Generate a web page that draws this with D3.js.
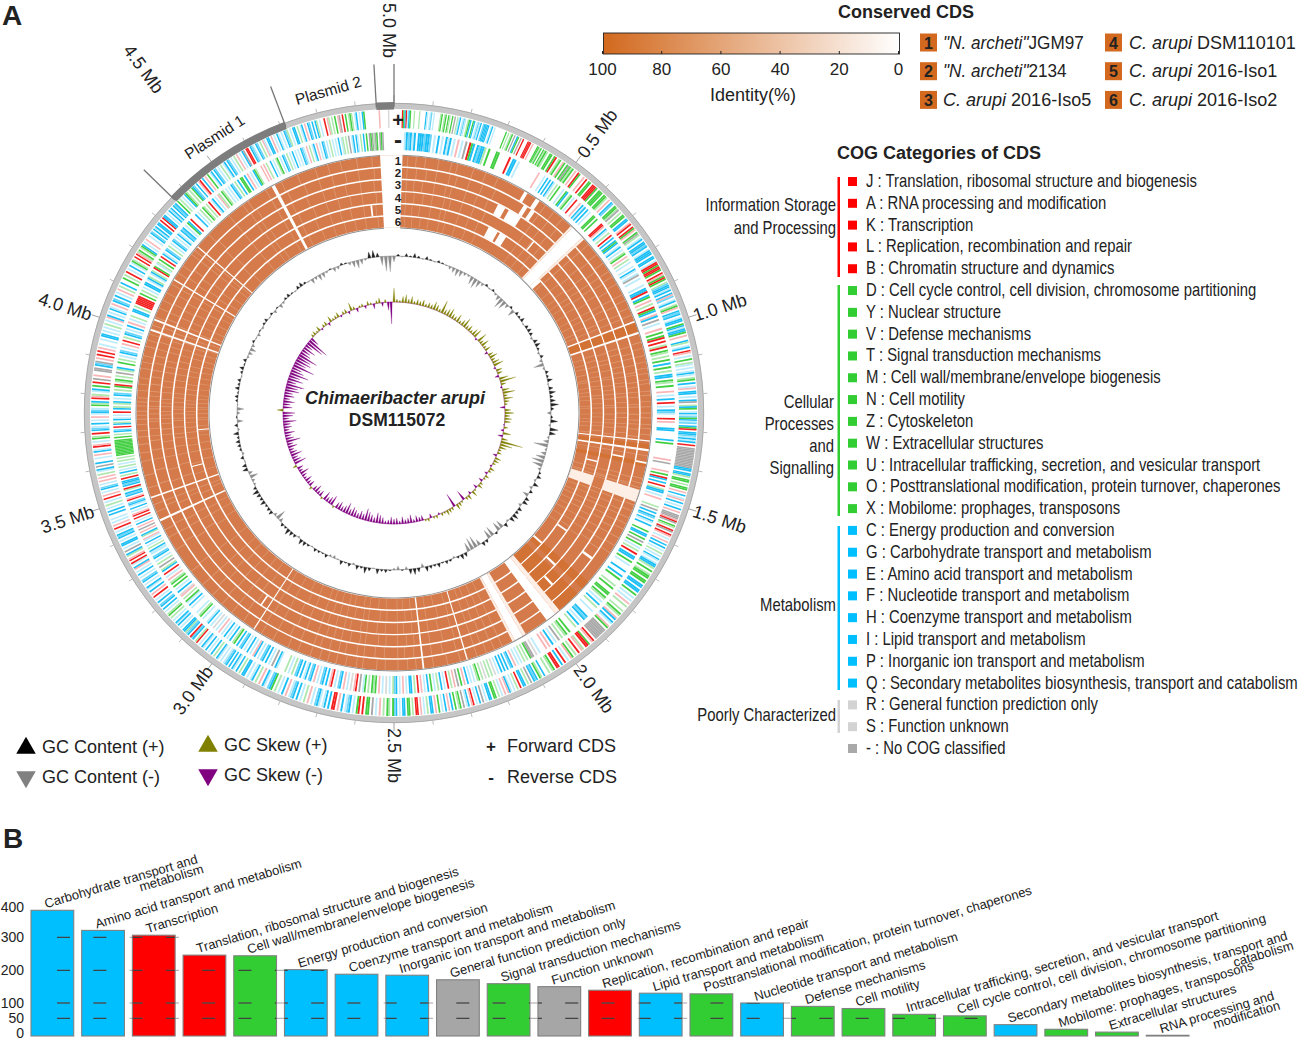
<!DOCTYPE html>
<html><head><meta charset="utf-8">
<script src="https://cdn.jsdelivr.net/npm/d3@7"></script>
<style>html,body{margin:0;padding:0;background:#fff}svg{display:block}text{font-family:"Liberation Sans",Arial,sans-serif;fill:#222}</style>
</head><body><svg id="c" width="1299" height="1041"></svg>
<script>
// ---------- DATA ----------
const barCategories = ["Carbohydrate transport and|metabolism","Amino acid transport and metabolism","Transcription","Translation, ribosomal structure and biogenesis","Cell wall/membrane/envelope biogenesis","Energy production and conversion","Coenzyme transport and metabolism","Inorganic ion transport and metabolism","General function prediction only","Signal transduction mechanisms","Function unknown","Replication, recombination and repair","Lipid transport and metabolism","Posttranslational modification, protein turnover, chaperones","Nucleotide transport and metabolism","Defense mechanisms","Cell motility","Intracellular trafficking, secretion, and vesicular transport","Cell cycle control, cell division, chromosome partitioning","Secondary metabolites biosynthesis, transport and|catabolism","Mobilome: prophages, transposons","Extracellular structures","RNA processing and|modification"];
const barValues = [390,323,307,246,244,202,188,185,171,159,150,139,130,128,100,89,82,63,58,32,19,11,2];
const barGroups = ["m","m","i","i","c","m","m","m","p","c","p","i","m","c","m","c","c","c","c","m","c","c","n"];
const barTicks = [0,50,100,200,300,400];
const mbLabels = [0.5,1.0,1.5,2.0,2.5,3.0,3.5,4.0,4.5,5.0];
const mbLabelRadius = [318,315,315,313,315,315,316,318,398,355];
const mbMinor = d3.range(1,51).map(d=>d/10);
const plasmids = [["Plasmid 1",-45.8,-20.7],["Plasmid 2",-3.3,0]];

const cogRows = ["J : Translation, ribosomal structure and biogenesis","A : RNA processing and modification","K : Transcription","L : Replication, recombination and repair","B : Chromatin structure and dynamics","D : Cell cycle control, cell division, chromosome partitioning","Y : Nuclear structure","V : Defense mechanisms","T : Signal transduction mechanisms","M : Cell wall/membrane/envelope biogenesis","N : Cell motility","Z : Cytoskeleton","W : Extracellular structures","U : Intracellular trafficking, secretion, and vesicular transport","O : Posttranslational modification, protein turnover, chaperones","X : Mobilome: prophages, transposons","C : Energy production and conversion","G : Carbohydrate transport and metabolism","E : Amino acid transport and metabolism","F : Nucleotide transport and metabolism","H : Coenzyme transport and metabolism","I : Lipid transport and metabolism","P : Inorganic ion transport and metabolism","Q : Secondary metabolites biosynthesis, transport and catabolism","R : General function prediction only","S : Function unknown","- : No COG classified"];
const cogRowGroups = ["i","i","i","i","i","c","c","c","c","c","c","c","c","c","c","c","m","m","m","m","m","m","m","m","p","p","n"];
const strains = [["\"N. archeti\"","JGM97"],["\"N. archeti\"","2134"],["C. arupi ","2016-Iso5"],["C. arupi ","DSM110101"],["C. arupi ","2016-Iso1"],["C. arupi ","2016-Iso2"]];
const identityTicks = [100,80,60,40,20,0];

// CDS tracks: one string per 30 degree sector, one character per gene stripe (see cdsColor)
const forwardCDS = [
"......rgbrcbg..l...l....bc.cB.c....lg.lg.gl.g.a.lcb.cBc.lgb.gb.cBcb.Bbbbb.cb.c........g.l.lg.a.bg.a.r...rrr.p...gglg.gl",
"gl.gg.gr.lg.pg.gaglg.p.rg..p.r.gg.rrrg.ggg.ggl.p.bB.ggla.l.gg.bb.pr.rgp.gal.cb.bbBb.cbbb.bb.c",
"rrgrrg.rpgrg.lBbbcb.bpB.cb.lgp.bBb.cbb.gbcbbg.p..bl.cb.rp.c.g.lc.c.cbc.lg.b.cp.bb.c.ba.lbg.c",
"bcBgbcB.bgr.bbBcbcb.r.aaaaaaaaaaaaabb.bbl.gg.l.gg.p.b.cp.b.c.b.p.aaapra.gl.ra.rp.c.p.b.b.c.l.c.bc.c",
"bbl.g.lgg.gg.bb.bb.g.c.c.p.l..l.gl.pb.bc.pg.aaaaaaa.rp.grr.lp.r.l.gp.c.r.b.rr.gl.l..",
"b.lg.bBb.a.l.bb.r.l.c.cbp.p.c.l.gg.bb.c.a.b.c.rp.bc.a.gl.g.b.p.b.c.g.p.bb.l.c.p.rr.l.gg.bb.c.bB",
"g.lg.l.p.c.a.gg.r.rg.c.bBc.b.p.rr.b.bc.cbB.c.p.l.c.b.bBc.p.b.c.l.gbB.cb.p.l.bc.c.b",
"b.l.b.cb.b.bBc.c.cb.l.b.c.b.cb.c.rl.bBr.bBlbb.c.bcb.c.l.gl.c.b.bB.b.c.r.p.b.cb.c.bB.c.b.c.pb.c",
"r.rp.lb.a.c.bb.c.bBb.c.r.p.c.c..b.b.c.l.c.r.p.c.bB.c.p.p.l.cb.a.b..c.p.bc.rp.c.gl.r.bBc.b.c.p.c",
"bBc.glb.rpl.cb.g.r.a.p..aa.bBa.p.r.r.p.c..c.bb.c.c.l.c.pb.c.bc.p.bB.b.c.p.l.b..g.l.r.c.b.c",
"gl.r.rplg.lgb.c.p..c.bB.bcb.bb.r.rbb.c.bcb.bBb.g.l.c.bgl.l.gbB.b.pr.b.p.g.cb.bB.c.l.cb.bB.c.l.p.c.b",
"a.rr.bBc.bB.l.pc.bb.p.c.bc.c.bBl.c.bb.l.cb.p.bB.b.bl.c..r.pl.l.g.pa.r.g.lgl.cb.c.bg.........p.....n..."];
const reverseCDS = [
".....cbBbcb.bbbBbbB.c.b.c.bcb.c.p.c.a.rgb.bBbbl.g...gg.....r.bb.c........",
"...p...c.b.b.bc.l.g..c.gb.lg.c.r..p.bcb.b.c..gg.g...rrp.bc.l.r.b.bgb.cb.c.lg.p.l.c..c.bc.",
"ca.c...c.bbr.bg.p.l.rgb.pb.a.c..p.g.gr.r.lr.gl.l.g.b.g.l.bb.gl.g..p.c.b.r.c.bB",
"c..r.p...bb.....b.g.........p.a....p.g.rb.b.r.lbb.c.p....l.a.b.bB.bc.b...g.bb.g.a.g.c.l.",
"r.bb.g.c...b..b.g...l.g..gg.gl.c.b.l..c...bBb.c.b.l...g.gl.l.a.c.b.p.p...c.n.",
"aag.l.l.c.c.p.bB.b.b.b.c.n.l.l.n.l.gl.c.c.b.p.g.a.p.l.r.c.b.l.c.g.b.c.p.r.l.bb.c.p.c.bB",
"l.c.n.c.p.glg.l.gc.a.rp.n.c.p.bB.c.rp.b.bB.c.p.bB.bc.b.bB.l.c.l....cb.a.c.b.bB.c.b",
"p.c.b.c.bB.b.gl.b.c.b.c.p.c.n.c.bc..c.gl.c...c.b.cg.l.pn.b.c.g.gl.p.c.r.bl.a.l.c.bB.c",
"cb.l.c.b.cp.lb.p.a.p.b.c.r.rp.c.b.cbB.rp.bBb.lr.bBbb.r.l.b.c.l.c.l.l.ggggggggggg.g.l.bB.r.bl.bc.c.",
"r.bl.lb.c.bB.l.gr.lg.l.a.lb..g.l.c.bB.c.p.r.l.bB.c.b.p.c.l..bb.l.rrrrr.g.l.c.bb.cbl.c",
"bl.rg.cl.g.r.bc.bB.l.c.bB.c.bc.bBb.c.gb.r...b.c.l.gl.l.r.cb.c.pl.gl.c.c.bB.l.b.gg.b.p.c.b",
"gl...p.p.l..b.c.lg.c.bB.l.c.b.c.c.bBc.p.l.cb.p.c.bB.c.l.c.c.b.cl.l.a.cb.bc.l.b.g.agalag.aga......."];
const cdsColor = {b:"#1cbff5",B:"#6ad5f8",c:"#bdecfc",g:"#42cf42",l:"#aee8ae",r:"#f42020",p:"#f9b6b8",a:"#a8a8a8",n:"#dadada"};

// Conserved CDS rings: [start, end] in degrees clockwise from the top
const allRingGaps = [[-3.1,1.9],[43.9,47],[69,69.4],[71.6,72.1],[96.1,96.4],[98.1,98.6],[141.2,143.6],[150,152],[163.3,163.6],[245.1,245.6],[250.6,251],[331.6,332.4],[-58.9,-58.6],[-68.9,-68.5],[-71.3,-70.9],[-49.9,-49.6],[212.8,213.1],[173.2,173.6]];
const paleGaps = [[107.4,110.2],[140,141.2],[149.2,150],[152,152.6],[47,47.6],[43.4,43.9]];
const ringOrangeInPale = [[4,107.4,110.2]];
const ringGaps = [[3,26.5,28.5],[3,29.5,33],[5,27,29.8],[5,30.5,32.5],[1,30.5,31.3],[1,33.5,34.5],[2,32,33],[2,34,35],[6,47,48.2],[4,39,39.4],[2,126,126.6],[4,133,133.6],[6,131,131.6],[3,137,137.6],[5,124,124.5],[5,-6.5,-6],[6,265,265.3],[5,255,255.3],[3,214.5,214.9],[1,101,101.4],[3,100.6,101],[5,103.2,103.6]];
const ringShadow = [[131,133],[134.5,140],[97,98.1],[69.5,71.5],[101,102]];
const paleLines = [3,5,7.2,10,13,14.5,18,21,24,36,38.5,41,49,52,54.5,56.5,58,60,62.5,64,66,67.5,74,75.5,77,78.5,80,81,82.5,83.5,85,86,87.5,88.5,90,91.2,92.5,93.5,95,99.5,104.8,106,106.8,111,112.5,114,115.5,117,119,121,123,155,157,159,161,165,168,171,175,177,179,182,184,187,188.5,191,193,195,197,199,202,204.5,208,211,216,219,222,225,228,232,238,241,243,247.5,249,253,256,259,261,263,264.5,266,267.5,268.5,269.5,270.5,271.5,272.5,273.5,275,276.5,278,280,281.5,283,285,286.5,288,289,290,292,294,296,298,300,303,305,308,-50.8,-46,-40,-36,-34.5,-30,-26,-22,-18,-15,-12,-8.5,-5];

// GC tracks: one value per 1.5 degree bin, grouped in 30 degree sectors
const gcContent = [
[-6,2,-1,3,1,4,2,-1,3,1,-1,2,1,-1,-3,-5,-7,-6,-3,-2],
[-8,-10,-7,-3,2,-1,2,-2,-5,-11,-9,-4,2,-7,3,2,4,-1,3,4],
[3,-2,4,5,2,-2,3,-3,-10,-2,3,2,5,-1,4,6,3,5,8,3],
[-4,2,7,-2,8,6,-2,-5,-14,-2,-5,-9,-12,-10,-3,2,4,-2,5,-3],
[3,-6,4,5,-3,4,3,6,5,-2,4,-8,-9,2,-10,-9,3,4,-6,-12],
[-12,-9,4,5,2,-2,2,3,1,4,2,3,5,-4,4,6,5,-3,1,-4],
[-2,1,3,2,5,-1,3,6,2,4,-2,3,1,4,-1,-3,-2,3,1,2],
[3,-1,2,4,5,-2,3,4,6,2,3,-4,-10,-3,4,3,2,5,3,4],
[6,3,-2,-3,-8,-4,5,4,-1,3,-2,2,3,4,2,5,-2,3,-6,1],
[-3,-7,-1,2,3,1,4,2,3,-1,2,4,1,3,-2,-4,-6,-3,2,-1],
[-3,1,-2,2,3,-1,2,-3,1,-4,-2,2,3,1,-1,3,4,2,-1,-5],
[-3,-6,-5,-2,1,-4,-3,2,1,-3,-6,-8,-5,-2,6,7,4,-9,-15,-16]];
const gcSkew = [
[14,3,2,6,8,4,7,3,5,4,6,3,5,4,8,6,3,13,5,7],
[9,5,4,8,3,6,10,4,6,3,7,9,-2,10,4,8,3,6,-3,5],
[8,4,7,10,-2,6,5,-4,9,16,5,-2,7,12,4,9,5,3,-5,6],
[9,5,7,6,-1,4,-3,8,-5,6,22,12,7,3,4,-4,6,5,3,-2],
[5,3,-3,4,2,-4,3,5,-4,2,6,-3,5,3,-10,2,4,6,-14,3],
[4,5,2,3,-2,3,2,-4,3,2,-5,-4,-6,-3,-8,-5,-4,-7,-3,-6],
[-5,-7,-4,-3,-6,-8,-10,-5,-7,-9,-12,-6,-8,-5,-7,-9,-6,-11,-7,-5],
[-8,-6,2,-10,-7,-5,-9,2,-6,-4,-8,-5,3,-6,-4,-7,-3,-5,-9,-4],
[-6,4,-12,-8,-6,-11,-7,-5,-9,-6,-14,-8,-6,-10,-5,-8,-7,-13,-6,-10],
[-12,6,-9,-7,-11,-6,-10,-8,-14,-12,-18,-9,-15,-11,-19,-13,-10,-22,-12,-16],
[-14,-20,-11,-9,-13,-8,-18,-22,-9,3,4,2,5,-2,3,4,-3,6,2,3],
[5,-2,3,4,-3,8,3,-4,2,3,-3,4,2,-5,3,5,-4,3,-8,-22]];

// ---------- DRAWING ----------
const svg = d3.select("#c");
const groupColor = {i:"#ff0000",c:"#32cd32",m:"#00bfff",p:"#a6a6a6",n:"#909090"};
const rad = d=>d*Math.PI/180;
const arc = d3.arc();
const A = (r0,r1,a0,a1)=>arc({innerRadius:r0,outerRadius:r1,startAngle:rad(a0),endAngle:rad(a1)});
const mbAngle = d3.scaleLinear().domain([0,5]).range([0,360]);
const polar = (r,a)=>[r*Math.sin(rad(a)),-r*Math.cos(rad(a))];

const g = svg.append("g").attr("transform","translate(394,413)");

// outer scale ring
g.append("path").attr("d",A(304,310,0,360)).attr("fill","#c6c6c6");
g.append("circle").attr("r",309.7).attr("fill","none").attr("stroke","#a0a0a0").attr("stroke-width",.8);
mbMinor.forEach(m=>{
  const big=Number.isInteger(m*2), a=mbAngle(m), p0=polar(310,a), p1=polar(big?318:314,a);
  g.append("line").attr("x1",p0[0]).attr("y1",p0[1]).attr("x2",p1[0]).attr("y2",p1[1]).attr("stroke",big?"#888":"#aaa").attr("stroke-width",.8);
});
plasmids.forEach(([n,a0,a1])=>{
  g.append("path").attr("d",A(303.5,311,a0,a1)).attr("fill","#7d7d7d");
  [a0,a1].forEach(a=>{
    const p0=polar(306,a),p1=polar(349,a);
    g.append("line").attr("x1",p0[0]).attr("y1",p0[1]).attr("x2",p1[0]).attr("y2",p1[1]).attr("stroke","#777").attr("stroke-width",1.3);
  });
});
g.append("text").attr("transform","translate(-205,-253) rotate(-33)").attr("font-size",15.5).text("Plasmid 1");
g.append("text").attr("transform","translate(-97,-308) rotate(-16)").attr("font-size",15.5).text("Plasmid 2");

// Mb labels
mbLabels.forEach((m,i)=>{
  const a=mbAngle(m), r=mbLabelRadius[i], p=polar(r,a), right=a<=180;
  g.append("text").attr("transform",`translate(${p[0]},${p[1]}) rotate(${right?a-90:a+90})`)
   .attr("text-anchor",right?"start":"end").attr("dy",i===9?"0.62em":"0.36em").attr("font-size",18).text(m.toFixed(1)+" Mb");
});

// CDS strands
function strand(data,r0,r1){
  data.forEach((s,si)=>{
    const w=30/s.length;
    s.split("").forEach((ch,i)=>{
      if(ch==="."||!cdsColor[ch])return;
      g.append("path").attr("d",A(r0,r1,si*30+i*w,si*30+(i+1)*w)).attr("fill",cdsColor[ch]);
    });
  });
}
strand(forwardCDS,285,303);
strand(reverseCDS,263,281);

// Conserved CDS rings
const ringOuter=258, ringPitch=12.17;
const ringR=k=>[ringOuter-ringPitch*k-10.7-0.6,ringOuter-ringPitch*k-0.6];
const [allIn]=ringR(5),[,allOut]=ringR(0);
d3.range(6).forEach(k=>{
  const [r0,r1]=ringR(k);
  g.append("path").attr("d",A(r0,r1,0,360)).attr("fill","#d57b4b");
  ringShadow.forEach(([a,b])=>g.append("path").attr("d",A(r0,r1,a,b)).attr("fill","#d27234"));
  paleLines.forEach((a,i)=>{
    const off=(k%2?0.2:-0.1)*(i%3);
    g.append("path").attr("d",A(r0,r1,a+off,a+off+0.2)).attr("fill","#fff").attr("opacity",.22);
  });
});
paleGaps.forEach(([a,b])=>g.append("path").attr("d",A(allIn,allOut,a,b)).attr("fill","#fdeee6"));
ringOrangeInPale.forEach(([k,a,b])=>{const [r0,r1]=ringR(k-1);g.append("path").attr("d",A(r0,r1,a,b)).attr("fill","#d57b4b");});
allRingGaps.forEach(([a,b])=>g.append("path").attr("d",A(allIn-.3,allOut+.3,a,b)).attr("fill","#fff"));
ringGaps.forEach(([k,a,b])=>{const [r0,r1]=ringR(k-1);g.append("path").attr("d",A(r0-.3,r1+.3,a,b)).attr("fill","#fff");});
[258,185].forEach(r=>g.append("path").attr("d",d3.arc()({innerRadius:r-.5,outerRadius:r+.5,startAngle:rad(1.9),endAngle:rad(356.9)})).attr("fill","#909090"));

// GC tracks
const spike=d3.lineRadial().angle(d=>d[0]).radius(d=>d[1]);
function track(sectors,base,pos,neg,halfWidth,blOpacity){
  const radial=d3.scaleLinear().domain([-30,30]).range([base-30,base+30]);
  g.append("circle").attr("r",base).attr("fill","none").attr("stroke",neg).attr("stroke-width",.6).attr("opacity",blOpacity);
  sectors.flat().forEach((v,i)=>{
    const a=i*1.5;
    g.append("path").attr("d",spike([[rad(a-halfWidth),base],[rad(a),radial(v)],[rad(a+halfWidth),base]])+"Z").attr("fill",v>=0?pos:neg).attr("stroke",v>=0?pos:neg).attr("stroke-width",.25);
  });
}
track(gcContent,157,"#222222","#8c8c8c",0.6,.8);
track(gcSkew,111,"#808000","#800080",0.55,.8);

// ring number labels, strand marks
g.append("text").attr("x",4).attr("y",-286).attr("text-anchor","middle").attr("font-size",20).attr("font-weight","bold").attr("fill","#000").text("+");
g.append("text").attr("x",4).attr("y",-265).attr("text-anchor","middle").attr("font-size",24).attr("font-weight","bold").attr("fill","#000").text("-");
d3.range(6).forEach(k=>g.append("text").attr("x",4).attr("y",-ringOuter+ringPitch*k+10).attr("text-anchor","middle").attr("font-size",11.5).attr("font-weight","bold").attr("fill","#000").text(k+1));
g.append("text").attr("x",1).attr("y",-9).attr("text-anchor","middle").attr("font-size",18).attr("font-weight","bold").attr("font-style","italic").attr("fill","#000").text("Chimaeribacter arupi");
g.append("text").attr("x",3).attr("y",13).attr("text-anchor","middle").attr("font-size",17.5).attr("font-weight","bold").attr("fill","#000").text("DSM115072");

// panel letters
svg.append("text").attr("x",2).attr("y",25).attr("font-size",28).attr("font-weight","bold").attr("fill","#000").text("A");
svg.append("text").attr("x",3).attr("y",848).attr("font-size",28).attr("font-weight","bold").attr("fill","#000").text("B");

// colour bar
const defs=svg.append("defs");
const grad=defs.append("linearGradient").attr("id","idg");
grad.append("stop").attr("offset",0).attr("stop-color","#d2691e");
grad.append("stop").attr("offset",1).attr("stop-color","#fff");
svg.append("rect").attr("x",603.5).attr("y",33).attr("width",296).attr("height",21).attr("fill","url(#idg)").attr("stroke","#222").attr("stroke-width",.9);
const idScale=d3.scaleLinear().domain([100,0]).range([602,898]);
const idAxis=svg.append("g").attr("transform","translate(0,54)").call(d3.axisBottom(idScale).tickValues(identityTicks).tickSize(3).tickPadding(6).tickFormat(d3.format("d")));
idAxis.select(".domain").remove();
idAxis.selectAll("line").attr("y2",-3).attr("stroke","#222");
idAxis.selectAll("text").attr("font-size",17).attr("font-family",null);
svg.append("text").attr("x",753).attr("y",101).attr("text-anchor","middle").attr("font-size",18).text("Identity(%)");
svg.append("text").attr("x",838).attr("y",18).attr("font-size",18).attr("font-weight","bold").attr("fill","#111").text("Conserved CDS");

// strains legend
strains.forEach(([it,rest],i)=>{
  const col=i<3?0:1,row=i%3,x=col?1105:920,y=33.5+row*28.7;
  svg.append("rect").attr("x",x).attr("y",y).attr("width",17).attr("height",18).attr("fill","#d2691e");
  svg.append("text").attr("x",x+8.5).attr("y",y+15).attr("text-anchor","middle").attr("font-size",16).attr("font-weight","bold").attr("fill","#000").text(i+1);
  const t=svg.append("text").attr("transform",`translate(${x+(col?24:23)},${y+15}) scale(${it[0]==='"'?.98:1.03},1)`).attr("font-size",17.5);
  t.append("tspan").attr("font-style","italic").text(it);
  t.append("tspan").text(rest);
});

// COG legend
svg.append("text").attr("x",837).attr("y",159).attr("font-size",18).attr("font-weight","bold").attr("fill","#111").text("COG Categories of CDS");
const rowY=d3.scaleLinear().domain([0,26]).range([181,748]);
const squareColor={i:"#ff0000",c:"#32cd32",m:"#00bfff",p:"#d3d3d3",n:"#a9a9a9"};
cogRows.forEach((t,i)=>{
  svg.append("rect").attr("x",848).attr("y",rowY(i)-4).attr("width",9).attr("height",9).attr("fill",squareColor[cogRowGroups[i]]);
  svg.append("text").attr("transform",`translate(866,${rowY(i)+6}) scale(.825,1)`).attr("font-size",18).text(t);
});
[["i",177,277],["c",285,516],["m",526,690],["p",700,733]].forEach(([k,a,b])=>{
  svg.append("rect").attr("x",837.5).attr("y",a).attr("width",2.5).attr("height",b-a).attr("fill",squareColor[k]);
});
[["Information Storage",836,211],["and Processing",836,234],["Cellular",834,408],["Processes",834,430],["and",834,452],["Signalling",834,474],["Metabolism",836,611],["Poorly Characterized",836,721]].forEach(([t,x,y])=>{
  svg.append("text").attr("transform",`translate(${x},${y}) scale(.825,1)`).attr("text-anchor","end").attr("font-size",18).text(t);
});

// GC legend
const tri=d3.symbol().type(d3.symbolTriangle).size(165);
[["GC Content (+)",26,747,0,"#000",42],["GC Content (-)",26,777,180,"#808080",42],["GC Skew (+)",208,745,0,"#808000",224],["GC Skew (-)",208,775,180,"#800080",224]].forEach(([t,x,y,rot,c,tx])=>{
  svg.append("path").attr("d",tri()).attr("transform",`translate(${x},${y+(rot?0:1)}) rotate(${rot})`).attr("fill",c);
  svg.append("text").attr("x",tx).attr("y",y+6).attr("font-size",18).text(t);
});
[["+","Forward CDS",752],["-","Reverse CDS",783]].forEach(([s,t,y])=>{
  svg.append("text").attr("x",491).attr("y",y).attr("text-anchor","middle").attr("font-size",17).attr("font-weight","bold").attr("fill","#000").text(s);
  svg.append("text").attr("x",507).attr("y",y).attr("font-size",18).text(t);
});

// Panel B
const x=d3.scaleBand().domain(d3.range(barValues.length)).range([31,1189]).paddingInner(.157);
const y=d3.scaleLinear().domain(barTicks).range([1036,1018.3,1003,970.3,937.3,907.3]);
const yAxis=svg.append("g").attr("transform","translate(24,0)").call(d3.axisLeft(y).tickValues(barTicks).tickSize(0).tickPadding(0).tickFormat(d3.format("d")));
yAxis.select(".domain").remove();
yAxis.selectAll("text").attr("font-size",14).attr("font-family",null).filter(d=>d===0).attr("dy","0.1em");

const clip=defs.append("clipPath").attr("id","bars");
barValues.forEach((v,i)=>clip.append("rect").attr("x",x(i)).attr("y",y(v)).attr("width",x.bandwidth()).attr("height",y(0)-y(v)));
svg.selectAll("rect.bar").data(barValues).join("rect").attr("class","bar")
  .attr("x",(d,i)=>x(i)).attr("y",d=>y(d)).attr("width",x.bandwidth()).attr("height",d=>y(0)-y(d))
  .attr("fill",(d,i)=>groupColor[barGroups[i]]).attr("stroke","#808080").attr("stroke-width",1.1);
const gridEnds={300:180,200:332,100:790,50:990};
[300,200,100,50].forEach(v=>{
  const line=()=>svg.append("line").attr("x1",57).attr("x2",gridEnds[v]).attr("y1",y(v)).attr("y2",y(v)).attr("stroke-dasharray","13 23.3").attr("stroke-width",.9);
  line().attr("stroke","#9a9a9a");
  line().attr("stroke","#222").attr("clip-path","url(#bars)");
});
barCategories.forEach((c,i)=>{
  const [a,b]=c.split("|");
  const t=svg.append("g").attr("transform",`translate(${x(i)+15},${y(barValues[i])-2}) rotate(-16.6)`);
  const first=t.append("text").attr("font-size",13).attr("fill","#333").text(a);
  if(b){
    const w=first.node().getComputedTextLength();
    t.append("text").attr("x",w+3).attr("y",11).attr("text-anchor","end").attr("font-size",13).attr("fill","#333").text(b);
  }
});
</script></body></html>
